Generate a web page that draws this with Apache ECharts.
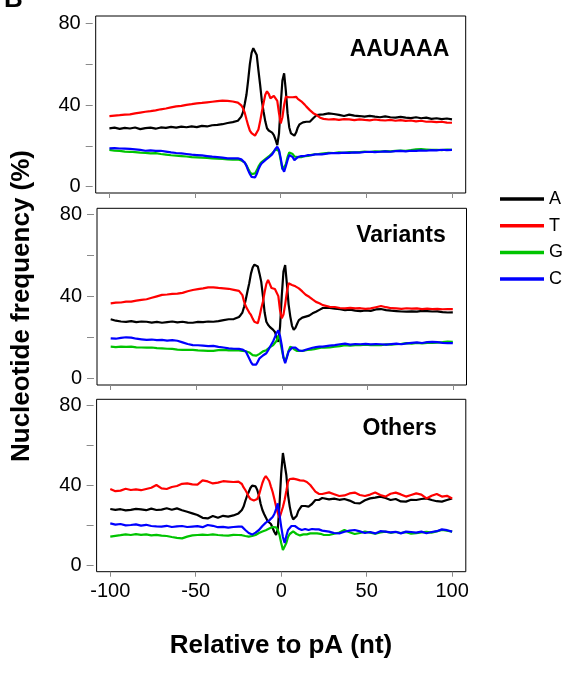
<!DOCTYPE html>
<html>
<head>
<meta charset="utf-8">
<script src="https://cdn.jsdelivr.net/npm/echarts@6/dist/echarts.min.js"></script>
<style>html,body{margin:0;padding:0;background:#fff;}#chart{width:577px;height:673px;}</style>
</head>
<body>
<div id="chart"></div>
<script>
// x positions (nt relative to pA)
const positions = [-100,-97,-94,-91,-88,-85,-82,-79,-76,-73,-70,-67,-64,-61,-58,-55,-52,-49,-46,-43,-40,-37,-34,-31,-28,
  -25,-24,-23,-22,-21,-20,-19,-18,-17,-16,-15,-14,-13,-12,-11,-10,-9,-8,-7,-6,-5,-4,-3,-2,-1,0,1,2,3,4,5,6,7,8,9,10,11,12,13,14,15,16,17,18,19,20,21,22,23,24,25,
  28,31,34,37,40,43,46,49,52,55,58,61,64,67,70,73,76,79,82,85,88,91,94,97,100];

const panelNames = ['AAUAAA', 'Variants', 'Others'];
const nucleotides = ['A', 'T', 'G', 'C'];
const xTicks = [-100, -50, 0, 50, 100];
const yTicks = [0, 20, 40, 60, 80];
const yLabels = [0, 40, 80];

// Panel 1: AAUAAA
const aauA = [28.6,28.9,28.3,28.8,28.5,29.0,28.2,28.7,28.9,28.4,29.0,28.8,29.3,28.9,29.4,29.1,29.5,29.2,29.8,29.5,30.1,30.3,30.6,31.2,31.6,
  32.3,33.0,34.3,36.5,40.5,45,52,60,65.5,67.8,67,64.5,57,49.8,42,36.7,32,28.6,27.5,27,26.5,25.3,23,20.4,26,40,52,55.5,47,36,29,26.1,25.3,25,26.5,29,30.5,31.2,31.5,31.6,31.8,31.7,31.8,32.5,33.5,34.3,35.1,35.0,35.3,35.1,35.4,
  35.9,35.6,35.2,34.6,35.3,34.8,34.6,34.3,34.7,34.3,34.0,34.4,34.0,33.8,34.2,33.8,33.6,34.0,33.5,33.8,33.2,33.5,33.1,33.4,33.0];
const aauT = [34.6,34.8,35.0,35.3,35.4,35.9,36.3,36.7,37.0,37.4,37.9,38.3,38.8,39.3,39.6,40.1,40.4,40.8,41.0,41.3,41.6,41.9,42.1,42.0,41.7,
  41.2,40.6,39.8,38.4,36.2,33,30,27.5,26.2,25.5,25.0,25.3,28,32,36.7,41,45,46.7,45.5,43.3,43.8,44.5,44.9,42,36,31,34,40,44,44.5,43.8,43.3,43.8,44.4,44,43,42.4,41.8,41,40.2,39.2,38.5,37.5,36.8,36,35.4,35.1,34.4,33.8,33.5,33.2,
  32.9,33.1,32.7,33.1,33.0,32.6,33.0,32.7,32.5,32.9,32.6,32.4,32.7,32.3,32.6,32.2,32.4,32.0,32.3,31.8,31.9,31.6,31.8,31.4,31.3];
const aauG = [18.0,17.6,17.5,17.2,17.1,16.9,16.7,16.6,16.3,16.4,16.0,15.7,15.4,15.2,15.0,14.8,14.5,14.4,14.2,14.1,13.9,13.7,13.6,13.4,13.3,
  13.3,13.1,12.9,12.5,11.8,10.5,8.8,7.3,6.2,5.8,6.5,8,9.8,11.2,12.2,12.8,13.5,14.2,14.8,15.5,16.3,17.3,18.3,19.0,17.5,13,8.5,7.8,11,14.5,16.8,17.3,16,14.8,14.5,14.5,14.8,14.5,14.8,15.0,14.7,15.1,15.3,15.6,15.5,15.9,16.1,16.0,16.3,16.2,16.4,
  16.6,16.5,16.8,16.6,16.9,16.8,17.0,17.2,17.0,17.3,17.2,17.4,17.3,17.5,17.7,17.6,17.9,18.3,18.4,18.2,18.0,18.1,17.9,18.2,18.0];
const aauC = [18.8,18.9,18.7,18.6,18.5,18.3,18.0,17.6,17.8,17.5,17.6,17.2,16.8,16.5,16.3,16.0,15.7,15.5,15.3,15.0,14.7,14.5,14.2,13.9,13.9,
  13.9,13.7,13.4,12.8,11.8,10.2,8,6.2,4.8,4.1,4.5,6.2,8.5,10.3,11.5,12.2,13,13.8,14.3,14.7,15.8,17.2,18.6,19.6,18,14,9,7.3,10,13,15.5,16.3,14.5,13,13.5,14.5,14.8,15,15.2,15.0,15.3,15.5,15.5,15.4,15.6,15.8,15.6,15.9,16.0,15.8,16.1,
  16.3,16.5,16.4,16.7,16.6,16.8,16.7,17.0,17.1,16.9,17.1,17.3,17.1,17.4,17.5,17.3,17.6,17.5,17.8,17.6,17.9,17.8,18.1,17.9,18.0];

// Panel 2: Variants
const varA = [28.7,28.0,27.6,27.4,27.8,27.3,27.6,27.5,27.1,27.4,27.0,27.3,27.6,27.2,27.5,27.1,27.0,27.4,27.3,27.6,27.5,27.8,28.3,28.7,28.8,
  29.8,30.8,32,34.8,38.5,42.5,46.3,51,54,55.4,55.6,54.5,51,47.1,40,32,27.5,26,25,24.3,23.5,22.5,20,17.7,25,40,52,55.2,46,36,30,25.5,23.5,24.5,26.5,28.3,29,29.5,29.8,30,30,30.5,31,31.6,32,32.4,33,33.3,33.8,34.2,34.8,
  34.3,33.9,33.6,33.2,33.4,32.9,32.7,33.0,32.8,33.5,33.7,33.2,32.9,32.7,32.5,32.4,32.6,32.4,32.8,32.7,32.5,32.6,32.2,32.0,32.1];
const varT = [36.5,36.8,36.9,37.3,37.3,37.8,38.2,38.5,39.2,39.9,40.6,40.8,41.1,41.2,41.6,42.4,43.0,43.4,43.8,44.3,44.3,44.0,43.8,43.6,43.1,
  42.6,42.2,40.5,37.3,35,33.5,32,30.8,29,27.5,26.7,26.8,30,34,37.3,42,46,47.9,46,44,43.8,43.5,43.8,40,33,29.2,31,36,42,46.3,46,45.5,45,44.8,44.3,43.8,43.2,42.3,41.5,40.7,40.2,39.7,39,38.4,37.8,37.2,36.8,36.5,36,35.6,35.2,
  34.8,34.7,34.2,34.0,34.3,34.0,34.1,33.8,34.0,34.6,35.2,34.6,34.1,34.0,33.8,34.1,33.9,34.0,33.7,33.9,33.7,33.8,33.6,33.7,33.7];
const varG = [15.3,15.1,15.3,15.2,15.3,15.0,14.9,14.8,14.9,14.6,14.5,14.3,14.2,13.9,13.7,13.8,13.7,13.5,13.4,13.3,13.3,13.6,13.7,13.5,13.6,
  13.5,13.4,13.3,13.2,13.1,12.9,12.5,11.8,11.2,10.8,10.9,11.2,11.8,12.5,13,13.2,13.6,14.2,15,15.6,16.1,16.8,18.2,20.7,18.5,14,10,8.0,10.5,13.2,15.3,15.0,14.2,13.5,13.2,13.1,13.2,13.2,13.4,13.5,13.7,13.6,13.8,14.0,14.1,14.3,14.5,14.5,14.8,14.6,14.8,
  14.9,15.3,15.6,16.1,15.8,16.0,16.1,16.3,16.0,16.2,16.0,16.4,16.3,16.5,16.7,17.0,16.8,17.1,16.9,17.2,17.1,17.3,17.5,17.8,17.7];
const varC = [19.4,19.2,19.6,19.9,19.7,19.2,18.9,18.6,18.8,18.5,18.6,18.3,18.5,18.2,17.4,16.6,16.1,16.0,15.8,15.6,15.7,15.2,14.9,14.5,14.3,
  14.2,14.2,13.9,13.5,12.9,11.2,9.5,7.8,6.5,5.7,6.5,8,9.6,10.2,11,11.7,12.1,13.5,15,16.5,18,20,22,23.3,20.5,16,10,7.2,10,13,13.7,14.8,15.3,14.8,14,13.5,13.3,13.2,13.5,13.8,14.2,14.3,14.5,14.8,15,15.1,15.3,15.3,15.5,15.3,15.4,
  15.8,16.1,16.5,16.8,16.3,16.6,16.5,16.7,16.4,16.6,16.5,16.3,16.6,16.8,16.5,16.9,17.2,17.4,17.1,17.5,17.7,17.5,17.2,17.0,17.0];

// Panel 3: Others
const othA = [28.0,27.6,27.9,27.3,27.6,28.1,27.8,27.4,28.2,27.5,27.7,28.4,27.6,28.3,27.4,26.6,25.8,25.0,23.6,23.3,24.5,23.6,24.6,24.2,24.8,
  25.8,26.5,27.5,29.2,32,34.5,36.5,38.5,39.7,40,39.3,37.5,34.5,30.5,27.5,25.5,23.8,22,21,20.5,18.5,16.5,15,18,30,45.8,56,55,45,35,29.2,25,22.8,22.5,24.5,27,28.3,29.5,30,29.5,29.2,29.2,29.5,30.5,31.5,32.5,32.8,32.5,33,33.5,33.2,
  32.8,33.2,32.6,33.0,32.2,31.0,30.8,32.4,33.3,33.7,34.2,33.5,32.5,33.0,31.8,31.7,32.6,32.5,33.0,33.3,32.5,31.9,31.7,32.5,33.3];
const othT = [38.0,36.9,37.2,38.1,37.5,37.8,37.4,38.0,38.6,40.0,38.3,38.0,39.0,39.5,40.6,40.8,40.3,40.2,42.3,41.8,40.8,41.2,41.9,41.7,41.5,
  41.7,41.6,40.5,38.8,37.5,36,34.2,33,32.5,32.3,32.5,33,35,38,41,43.2,44.5,44.2,42,39.2,36.5,33,29.2,26,23.5,24,29,32.5,37,41.7,43,43.3,43.2,43.4,42.8,42.5,42.3,42.5,42.2,42.0,41.5,40.8,40,39,37.8,36.7,36,35.6,35.5,35.5,35.8,
  36.3,35.4,34.5,34.8,35.8,36.2,35.0,34.5,35.2,36.2,35.0,34.2,35.6,36.2,35.3,34.2,35.0,35.8,35.2,33.3,34.6,35.5,34.2,34.6,33.3];
const othG = [14.2,14.6,14.9,15.3,15.0,15.4,15.1,15.3,14.8,15.1,14.7,14.5,14.0,13.6,13.3,14.2,14.8,15.0,15.2,15.0,15.3,15.0,14.8,14.7,15.1,
  15.0,15.2,14.9,14.7,14.5,14.3,14.2,14.3,14.5,14.8,15,15.5,16,16.3,16.7,17,17.4,17.8,18.2,18.6,19,19.2,18.8,17.5,15,11,7.5,8,11,14,15.5,16.5,16.8,16.2,15.5,15,14.8,15,15.3,15.5,15.3,15.5,15.8,15.5,15.8,16.0,15.8,16.0,15.6,15.2,15.0,
  15.0,15.6,16.2,17.5,16.4,15.5,16.0,16.7,16.2,15.6,16.3,16.7,16.1,16.5,16.0,16.4,15.7,15.9,16.3,16.6,16.2,16.8,17.5,17.2,16.7];
const othC = [20.8,20.2,20.5,19.8,20.0,20.3,19.7,20.1,19.5,19.3,19.2,19.6,19.0,19.3,19.5,19.0,19.2,19.4,18.9,20.0,19.6,18.9,19.1,18.7,19.0,
  19.2,19.0,19.2,18.5,17.5,16.7,16,15.5,15.2,15.5,16.2,17,17.5,18.3,19.5,20.5,21.2,21.8,22.3,23,24,25.5,28,30.8,25,19.2,14,11,14.5,17.5,18.5,19.5,20,19.5,18.8,18.3,17.8,17.5,17.6,18.0,17.8,17.5,17.8,18.0,17.6,17.8,17.5,17.8,17.5,17.2,17.0,
  16.7,16.0,15.8,16.6,17.2,17.5,16.8,16.0,16.5,15.8,16.9,16.7,16.3,16.6,15.8,16.7,16.5,16.2,16.7,15.9,16.5,16.9,17.8,17.4,16.7];

const panelData = [
  [aauA, aauT, aauG, aauC],
  [varA, varT, varG, varC],
  [othA, othT, othG, othC]
];
const colors = ['#000000', '#ff0000', '#00c400', '#0000ff'];

const FONT = "'Liberation Sans', Arial, Helvetica, sans-serif";

// layout (pixels)
const grids = [
  { left: 95.7, top: 16, width: 370, height: 177, ymin: -3.08, ymax: 83.57 },
  { left: 97.0, top: 208.3, width: 369.5, height: 176.7, ymin: -3.42, ymax: 82.93 },
  { left: 96.6, top: 399.3, width: 369.2, height: 172.4, ymin: -3.35, ymax: 82.85 }
];
const titlePos = [
  { x: 449.3, y: 50 },
  { x: 445.7, y: 236 },
  { x: 436.7, y: 429 }
];

const option = {
  animation: false,
  backgroundColor: '#ffffff',
  grid: grids.map(g => ({
    left: g.left, top: g.top, width: g.width, height: g.height,
    show: true, borderColor: '#000', borderWidth: 1, backgroundColor: 'transparent'
  })),
  xAxis: grids.map((g, i) => ({
    type: 'value', gridIndex: i, min: -108, max: 108, position: 'bottom',
    axisLine: { show: false, onZero: false },
    splitLine: { show: false },
    axisTick: { show: true, customValues: xTicks, length: 5, lineStyle: { color: '#8a8a8a', width: 1 } },
    axisLabel: { show: i === 2, customValues: xTicks, margin: 10, fontSize: 20, color: '#000', fontFamily: FONT }
  })),
  yAxis: grids.map((g, i) => ({
    type: 'value', gridIndex: i, min: g.ymin, max: g.ymax, offset: 3, position: 'left',
    axisLine: { show: false, onZero: false },
    splitLine: { show: false },
    axisTick: { show: true, customValues: yTicks, length: 7, lineStyle: { color: '#8a8a8a', width: 1 } },
    axisLabel: { show: true, customValues: yLabels, margin: 12, fontSize: 20, color: '#000', fontFamily: FONT }
  })),
  legend: {
    data: nucleotides,
    orient: 'vertical',
    left: 495, top: 185,
    icon: 'rect',
    itemWidth: 44, itemHeight: 3.5,
    itemGap: 8.7,
    textStyle: { fontSize: 18, lineHeight: 18, color: '#000', fontFamily: FONT }
  },
  series: [],
  graphic: [
    {
      type: 'text', x: 22, y: 306, rotation: Math.PI / 2,
      style: { text: 'Nucleotide frequency (%)', font: "bold 26px " + FONT, fill: '#000', textAlign: 'center', textVerticalAlign: 'middle' }
    },
    {
      type: 'text', x: 281, y: 646,
      style: { text: 'Relative to pA (nt)', font: "bold 26px " + FONT, fill: '#000', textAlign: 'center', textVerticalAlign: 'middle' }
    },
    {
      type: 'text', x: 4, y: 13,
      style: { text: 'B', font: "bold 26px " + FONT, fill: '#000', textAlign: 'left', textVerticalAlign: 'bottom' }
    }
  ]
};

panelNames.forEach((name, p) => {
  option.graphic.push({
    type: 'text', x: titlePos[p].x, y: titlePos[p].y,
    style: { text: name, font: "bold 23px " + FONT, fill: '#000', textAlign: 'right', textVerticalAlign: 'middle' }
  });
  nucleotides.forEach((n, k) => {
    const vals = panelData[p][k];
    option.series.push({
      name: n, type: 'line', xAxisIndex: p, yAxisIndex: p,
      showSymbol: false, symbol: 'none',
      color: colors[k],
      lineStyle: { width: 2.2, color: colors[k] },
      data: positions.map((x, i) => [x, vals[i]])
    });
  });
});

const chart = echarts.init(document.getElementById('chart'), null, { renderer: 'canvas' });
chart.setOption(option);
</script>
</body>
</html>
